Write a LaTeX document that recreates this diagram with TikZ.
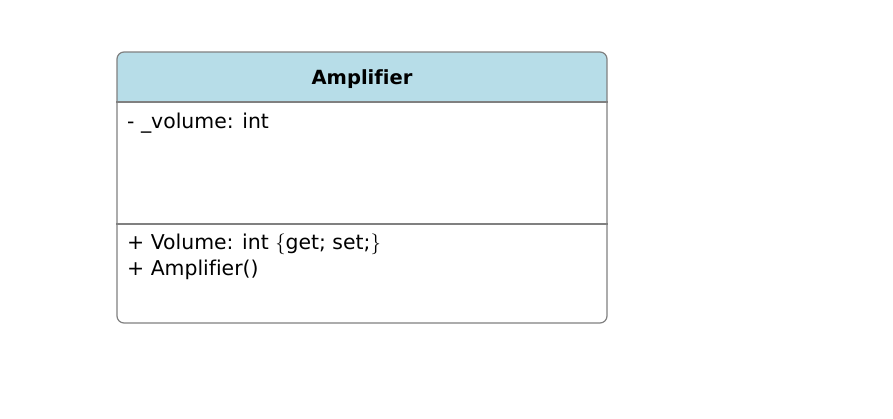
\documentclass[tikz,border=0pt]{standalone}
\usepackage{fontspec}
\setmainfont[Ligatures=NoCommon]{DejaVu Sans}
\definecolor{headblue}{HTML}{B7DDE8}
\definecolor{edgegray}{HTML}{808080}
\tikzset{
  classtext/.style={inner sep=0pt,font=\fontsize{20.4}{26}\selectfont},
}
\begin{document}
\begin{tikzpicture}[x=1pt,y=-1pt]
        \useasboundingbox (0,0) rectangle (893,419);
        \begin{scope}
                \clip[rounded corners=7pt] (117,52) rectangle (607,323);
                \fill[headblue] (117,52) rectangle (607,102);
        \end{scope}
        \node at (362,187.5) [rectangle,draw=edgegray,line width=1.2pt,rounded corners=7pt,minimum width=490pt,minimum height=271pt,inner sep=0pt] (cls) {};
        \node at (362,79.5) [classtext,font=\fontsize{19.5}{26}\selectfont\bfseries] (title) {Amplifier};
        \node at (127,123.5) [classtext,anchor=west] (attr) {- \_volume: int};
        \node at (127,257) [classtext,anchor=west,align=left] (ops) {+ Volume: int $\{$get; set;$\}$\\+ Amplifier()};
        \draw[edgegray,line width=1.2pt] (cls.west |- 0,102) -- (cls.east |- 0,102);
        \draw[edgegray,line width=1.2pt] (cls.west |- 0,224) -- (cls.east |- 0,224);
\end{tikzpicture}
\end{document}
